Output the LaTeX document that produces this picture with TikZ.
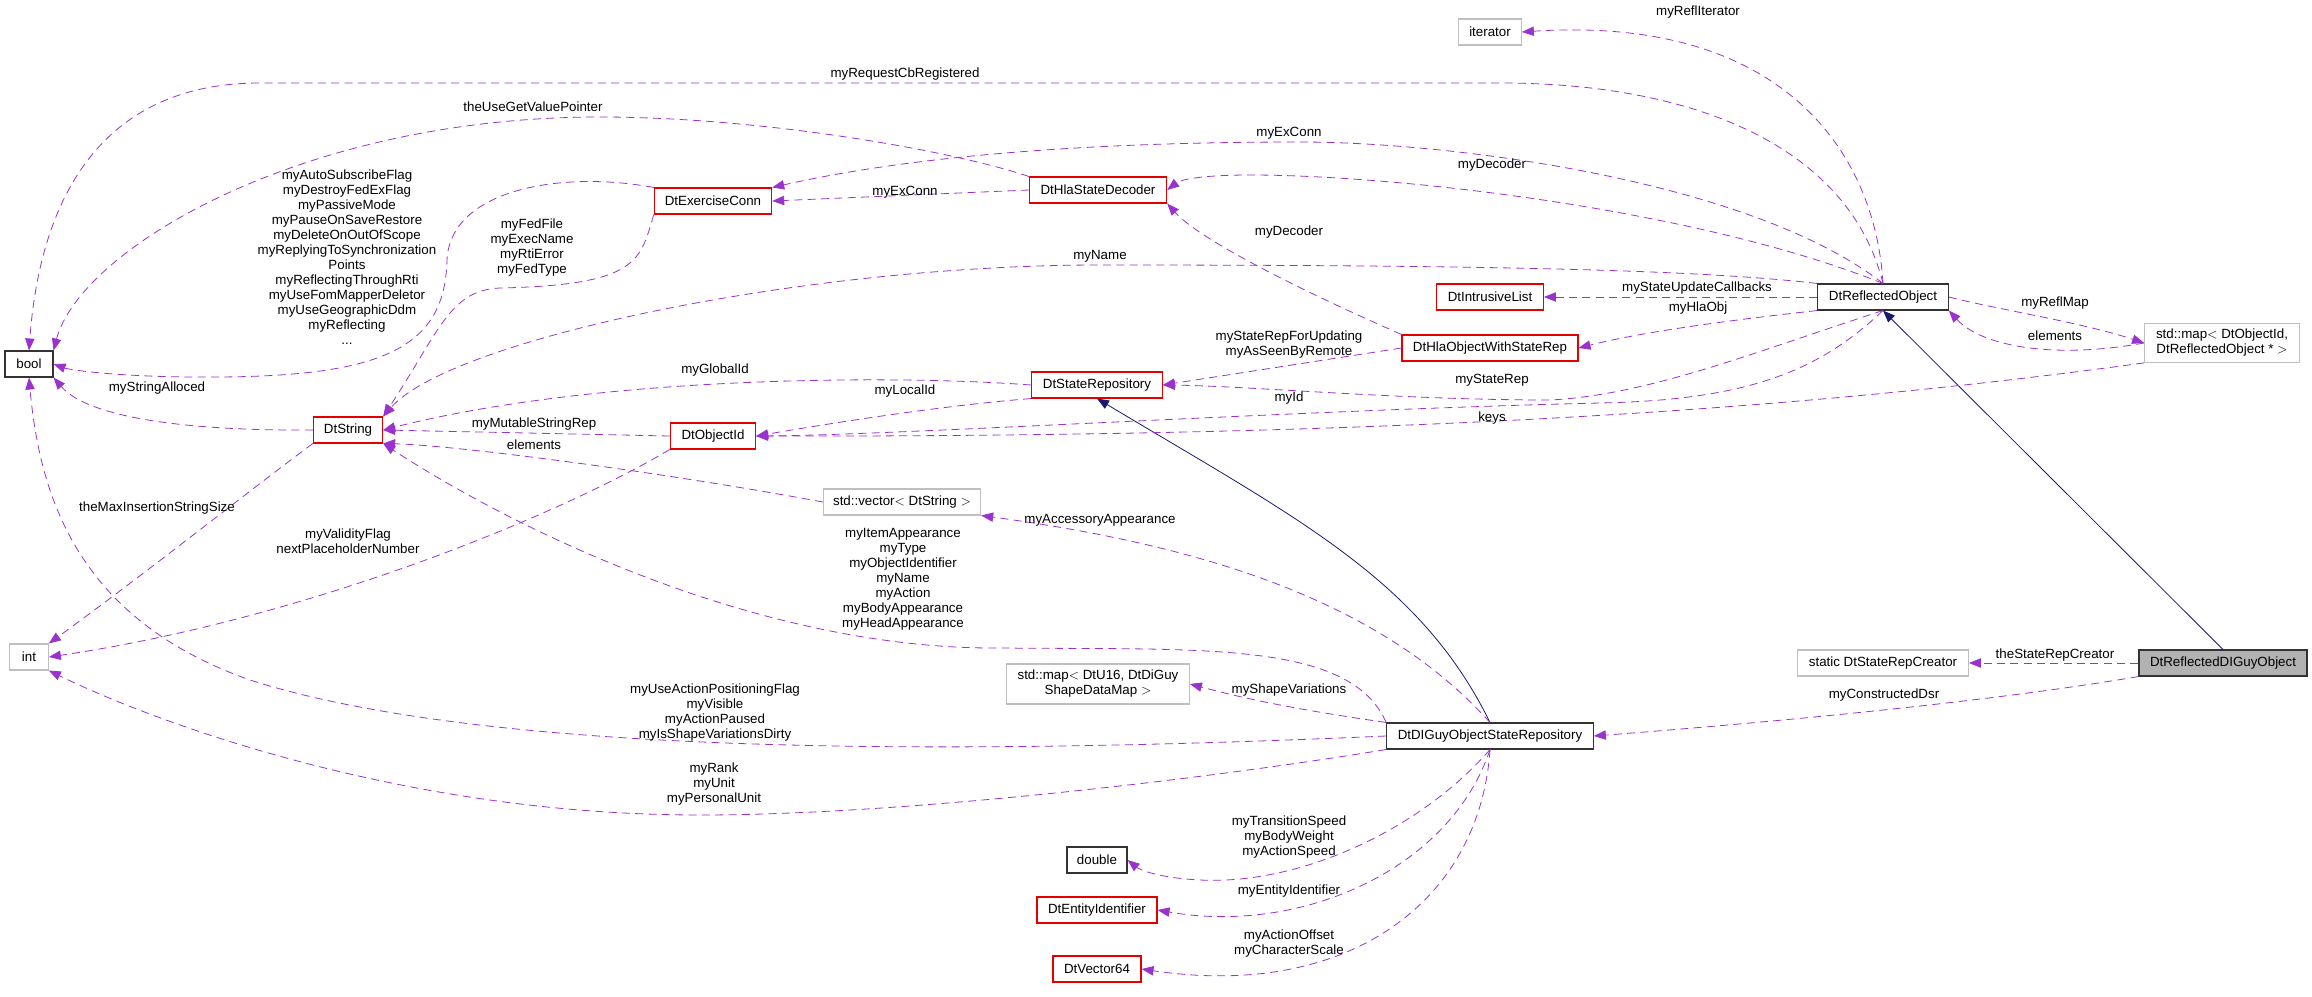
\documentclass[tikz,border=0pt]{standalone}
\usepackage{fontspec}
\setmainfont{Liberation Sans}
\usetikzlibrary{arrows.meta}
\definecolor{dep}{HTML}{9A32CD}
\definecolor{inh}{HTML}{191970}
\tikzstyle{cls}=[shape=rectangle,
                 draw=black!80,
                 fill=white,
                 minimum height=19.5pt,
                 inner sep=2pt,
                 thick]
\tikzstyle{red}=[cls,draw=red!90!black]
\tikzstyle{ext}=[cls,draw=black!25]
\tikzstyle{lbl}=[align=center,inner sep=0pt]
\tikzstyle{uses}=[draw=dep,dashed,semithick,dash pattern=on 6pt off 4pt,
                  -{Triangle[length=9pt,width=7pt]}]
\tikzstyle{isa}=[draw=inh,semithick,-{Triangle[length=9pt,width=7pt]}]

\begin{document}
\begin{tikzpicture}[x=0.75pt,y=-0.75pt,font=\fontsize{10}{11.25}\selectfont]
\useasboundingbox (0,0) rectangle (2312,996);

\node[cls]  (bool) at (29,364)   [minimum width=36pt]  {bool};
\node[ext]  (int)  at (29,657)   [minimum width=29pt]  {int};
\node[red]  (str)  at (348,430)  [minimum width=52pt]  {DtString};
\node[red]  (exc)  at (713,201)  [minimum width=88pt]  {DtExerciseConn};
\node[red]  (dec)  at (1098,190) [minimum width=103pt] {DtHlaStateDecoder};
\node[red]  (oid)  at (713,436)  [minimum width=64pt]  {DtObjectId};
\node[red]  (srep) at (1097,385) [minimum width=98pt]  {DtStateRepository};
\node[ext]  (vec)  at (902,502)  [minimum width=118pt] {std::vector$<$ DtString $>$};
\node[ext]  (iter) at (1490,32)  [minimum width=47pt]  {iterator};
\node[red]  (ilst) at (1490,297) [minimum width=80pt]  {DtIntrusiveList};
\node[red]  (hla)  at (1490,348) [minimum width=132pt] {DtHlaObjectWithStateRep};
\node[cls]  (dro)  at (1883,297) [minimum width=98pt]  {DtReflectedObject};
\node[ext]  (map)  at (2222,343) [minimum width=116pt,minimum height=29pt,align=center]
            {std::map$<$ DtObjectId,\\ DtReflectedObject * $>$};
\node[ext]  (smap) at (1098,684) [minimum width=137pt,minimum height=30pt,align=center]
            {std::map$<$ DtU16, DtDiGuy\\ ShapeDataMap $>$};
\node[cls]  (repo) at (1490,736) [minimum width=155pt] {DtDIGuyObjectStateRepository};
\node[cls]  (dbl)  at (1097,860) [minimum width=45pt]  {double};
\node[red]  (eid)  at (1097,910) [minimum width=90pt]  {DtEntityIdentifier};
\node[red]  (v64)  at (1097,969) [minimum width=66pt]  {DtVector64};
\node[ext]  (scr)  at (1883,663) [minimum width=128pt] {static DtStateRepCreator};
\node[cls,fill=black!30] (drg) at (2223,663) [minimum width=126pt] {DtReflectedDIGuyObject};

% inheritance
\draw[isa] (drg.north) -- (dro.south);
\draw[isa] (repo.north) .. controls (1420,580) and (1300,520) .. (srep.south);

% members of DtReflectedObject
\draw[uses] (dro.north) .. controls (1875,150) and (1780,15) .. (iter.east);
\draw[uses] (dro.north) .. controls (1850,150) and (1700,83) .. (1500,83) -- (260,83)
            .. controls (100,83) and (40,200) .. (bool.north);
\draw[uses] (dro.north) .. controls (1750,180) and (1450,142) .. (1300,142)
            .. controls (1000,142) and (850,170) .. (exc.north east);
\draw[uses] (dro.north) .. controls (1700,210) and (1400,175) .. (1250,175)
            .. controls (1200,175) and (1180,180) .. (dec.east);
\draw[uses] (dro.north west) .. controls (1700,270) and (1500,265) .. (1100,265)
            .. controls (800,265) and (450,340) .. (str.north east);
\draw[uses] (dro.west) -- (ilst.east);
\draw[uses] (dro.south west) .. controls (1750,318) and (1650,330) .. (hla.east);
\draw[uses] (dro.south) .. controls (1760,350) and (1650,395) .. (1550,400)
            .. controls (1400,400) and (1250,386) .. (srep.east);
\draw[uses] (dro.south) .. controls (1820,370) and (1750,400) .. (1600,403)
            .. controls (1300,410) and (900,435) .. (oid.east);
\draw[uses] (dro.east) .. controls (2000,310) and (2080,322) .. (map.west);
\draw[uses] (map.west) .. controls (2050,360) and (1980,345) .. (dro.south east);
\draw[uses] (map.south west) .. controls (1800,410) and (1400,437) .. (oid.east);

% members of the decoder, connection and state classes
\draw[uses] (dec.north west) .. controls (950,150) and (760,117) .. (600,117)
            .. controls (300,117) and (80,250) .. (bool.north east);
\draw[uses] (dec.west) -- (exc.east);
\draw[uses] (exc.north west) .. controls (560,170) and (450,190) .. (447,260)
            .. controls (445,350) and (380,378) .. (200,377)
            .. controls (120,377) and (70,370) .. (bool.east);
\draw[uses] (exc.south west) .. controls (640,260) and (640,285) .. (500,288)
            .. controls (450,290) and (440,330) .. (str.north east);
\draw[uses] (hla.north west) .. controls (1300,290) and (1200,240) .. (dec.south east);
\draw[uses] (hla.west) -- (srep.east);
\draw[uses] (srep.west) .. controls (900,375) and (600,375) .. (str.east);
\draw[uses] (srep.south west) .. controls (950,405) and (850,420) .. (oid.east);
\draw[uses] (oid.west) -- (str.east);
\draw[uses] (vec.west) .. controls (650,470) and (450,445) .. (str.south east);
\draw[uses] (str.west) .. controls (200,431) and (90,420) .. (bool.south east);
\draw[uses] (str.south west) .. controls (250,490) and (150,570) .. (int.north east);
\draw[uses] (oid.south west) .. controls (550,520) and (300,620) .. (int.east);

% members of DtReflectedDIGuyObject
\draw[uses] (drg.west) -- (scr.east);
\draw[uses] (drg.south west) .. controls (2000,700) and (1800,720) .. (repo.east);

% members of DtDIGuyObjectStateRepository
\draw[uses] (repo.north) .. controls (1380,600) and (1200,545) .. (vec.south east);
\draw[uses] (repo.north west) .. controls (1350,640) and (1200,650) .. (1000,648)
            .. controls (750,650) and (500,520) .. (str.south east);
\draw[uses] (repo.north west) .. controls (1300,710) and (1250,700) .. (smap.east);
\draw[uses] (repo.west) .. controls (1000,753) and (500,760) .. (250,680)
            .. controls (80,620) and (40,500) .. (bool.south);
\draw[uses] (repo.south west) .. controls (1200,780) and (900,815) .. (700,815)
            .. controls (400,815) and (150,720) .. (int.south east);
\draw[uses] (repo.south) .. controls (1420,830) and (1300,885) .. (1200,880)
            .. controls (1160,878) and (1140,870) .. (dbl.east);
\draw[uses] (repo.south) .. controls (1450,870) and (1300,935) .. (eid.east);
\draw[uses] (repo.south) .. controls (1480,900) and (1350,1000) .. (v64.east);

% labels
\node[lbl] (l1)  at (1698,12)  {myReflIterator};
\node[lbl] (l2)  at (905,74)   {myRequestCbRegistered};
\node[lbl] (l3)  at (533,107)  {theUseGetValuePointer};
\node[lbl] (l4)  at (347,257)  {myAutoSubscribeFlag\\myDestroyFedExFlag\\myPassiveMode\\
  myPauseOnSaveRestore\\myDeleteOnOutOfScope\\myReplyingToSynchronization\\Points\\
  myReflectingThroughRti\\myUseFomMapperDeletor\\myUseGeographicDdm\\myReflecting\\...};
\node[lbl] (l5)  at (532,248)  {myFedFile\\myExecName\\myRtiError\\myFedType};
\node[lbl] (l6)  at (157,388)  {myStringAlloced};
\node[lbl] (l7)  at (1289,133) {myExConn};
\node[lbl] (l8)  at (905,192)  {myExConn};
\node[lbl] (l9)  at (1492,165) {myDecoder};
\node[lbl] (l10) at (1289,232) {myDecoder};
\node[lbl] (l11) at (1100,256) {myName};
\node[lbl] (l12) at (1697,288) {myStateUpdateCallbacks};
\node[lbl] (l13) at (1698,308) {myHlaObj};
\node[lbl] (l14) at (1289,345) {myStateRepForUpdating\\myAsSeenByRemote};
\node[lbl] (l15) at (1492,380) {myStateRep};
\node[lbl] (l16) at (1289,398) {myId};
\node[lbl] (l17) at (1492,418) {keys};
\node[lbl] (l18) at (715,370)  {myGlobalId};
\node[lbl] (l19) at (905,391)  {myLocalId};
\node[lbl] (l20) at (534,424)  {myMutableStringRep};
\node[lbl] (l21) at (534,445)  {elements};
\node[lbl] (l22) at (2055,303) {myReflMap};
\node[lbl] (l23) at (2055,336) {elements};
\node[lbl] (l24) at (157,508)  {theMaxInsertionStringSize};
\node[lbl] (l25) at (348,541)  {myValidityFlag\\nextPlaceholderNumber};
\node[lbl] (l26) at (1100,520) {myAccessoryAppearance};
\node[lbl] (l27) at (903,579)  {myItemAppearance\\myType\\myObjectIdentifier\\myName\\
  myAction\\myBodyAppearance\\myHeadAppearance};
\node[lbl] (l28) at (715,713)  {myUseActionPositioningFlag\\myVisible\\myActionPaused\\
  myIsShapeVariationsDirty};
\node[lbl] (l29) at (714,784)  {myRank\\myUnit\\myPersonalUnit};
\node[lbl] (l30) at (1289,690) {myShapeVariations};
\node[lbl] (l31) at (1289,837) {myTransitionSpeed\\myBodyWeight\\myActionSpeed};
\node[lbl] (l32) at (1289,891) {myEntityIdentifier};
\node[lbl] (l33) at (1289,944) {myActionOffset\\myCharacterScale};
\node[lbl] (l34) at (2055,655) {theStateRepCreator};
\node[lbl] (l35) at (1884,695) {myConstructedDsr};
\end{tikzpicture}
\end{document}
